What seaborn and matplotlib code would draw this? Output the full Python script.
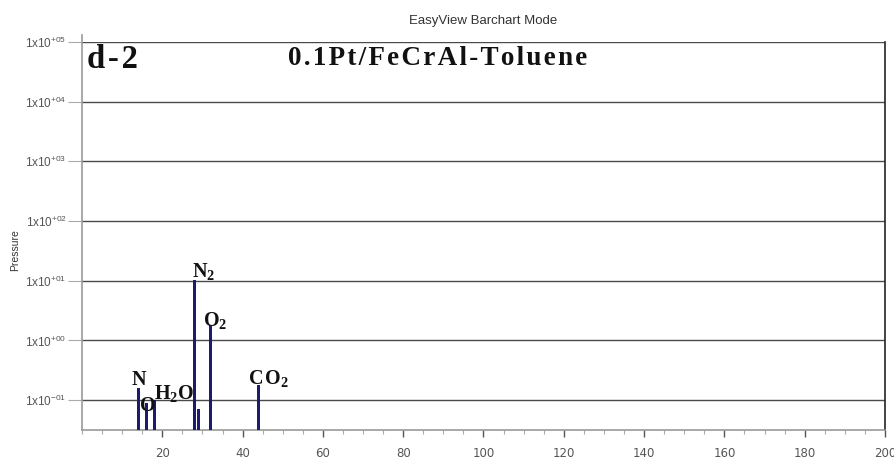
import numpy as np
import pandas as pd
import seaborn as sns
import matplotlib
matplotlib.use("Agg")
import matplotlib.pyplot as plt

# ---- data ----
mass = [14, 16, 18, 28, 29, 32, 44]
pressure = [0.16, 0.09, 0.10, 10.5, 0.072, 1.8, 0.18]
peak_labels = ["N", "O", "H$_2$O", "N$_2$", "", "O$_2$", "C\u200aO$_2$"]
x_ticks = [20, 40, 60, 80, 100, 120, 140, 160, 180, 200]
y_ticks = [1e-1, 1e0, 1e1, 1e2, 1e3, 1e4, 1e5]
y_tick_labels = [r"$\mathsf{1x10^{-01}}$", r"$\mathsf{1x10^{+00}}$", r"$\mathsf{1x10^{+01}}$",
                 r"$\mathsf{1x10^{+02}}$", r"$\mathsf{1x10^{+03}}$", r"$\mathsf{1x10^{+04}}$",
                 r"$\mathsf{1x10^{+05}}$"]
title = "EasyView Barchart Mode"
panel = "d-2"
sample = "0.1Pt/FeCrAl-Toluene"

# ---- label layout (positions of annotations, data coords) ----
label_pos = [(14.2, 0.178, "center"), (16.3, 0.0655, "center"), (22.8, 0.106, "center"),
             (27.4, 11.5, "left"), (None, None, None), (30.2, 1.74, "left"), (41.3, 0.185, "left")]


def spaced(s, n=1):
    return ("\u200a" * n).join(s)


plt.rcParams["mathtext.fontset"] = "custom"
plt.rcParams["mathtext.rm"] = "Liberation Serif:bold"
plt.rcParams["mathtext.bf"] = "Liberation Serif:bold"
plt.rcParams["mathtext.it"] = "Liberation Serif:bold:italic"
plt.rcParams["mathtext.sf"] = "Liberation Sans"

W, H = 895, 459
fig = plt.figure(figsize=(W / 100, H / 100), dpi=100)
ax = fig.add_axes([82 / W, 1 - 430 / H, 803 / W, 388 / H])
ax.set_yscale("log")

df = pd.DataFrame({"mass": mass, "pressure": pressure})
sns.barplot(data=df, x="mass", y="pressure", native_scale=True, width=0.85,
            color="#1c1c6e", saturation=1, linewidth=0, ax=ax, zorder=3)

ax.set_xlim(0, 200)
ax.set_ylim(10 ** -1.5, 1e5)
ax.set_xlabel("")
ax.set_ylabel("")

ax.set_yticks(y_ticks)
ax.set_yticklabels(y_tick_labels)
ax.yaxis.set_minor_locator(matplotlib.ticker.NullLocator())
ax.set_xticks(x_ticks)
ax.set_xticklabels([str(v) for v in x_ticks])
ax.set_xticks(np.arange(0, 201, 5), minor=True)

ax.yaxis.grid(True, color="#4a4a4a", lw=1.0, zorder=1)
ax.set_axisbelow(True)

ax.tick_params(axis="y", which="major", length=10, width=0.8, color="#aaaaaa",
               labelcolor="#555555", labelsize=8.5, pad=1)
ax.tick_params(axis="x", which="major", length=5, width=1, color="#555555",
               labelcolor="#555555", labelsize=8.5, pad=7.5)
ax.tick_params(axis="x", which="minor", length=3, width=0.8, color="#aaaaaa")

ax.spines["top"].set_visible(False)
ax.spines["left"].set_color("#999999")
ax.spines["left"].set_linewidth(1.2)
ax.spines["left"].set_bounds(10 ** -1.5, 10 ** 5.12)
ax.spines["bottom"].set_color("#999999")
ax.spines["bottom"].set_linewidth(1.2)
ax.spines["right"].set_color("#222222")
ax.spines["right"].set_linewidth(1.2)

serif = ["Liberation Serif", "DejaVu Serif"]
for lab, (lx, ly, ha) in zip(peak_labels, label_pos):
    if not lab:
        continue
    ax.text(lx, ly, lab, ha=ha, va="baseline", fontsize=14.5,
            family=serif, fontweight="bold", color="#111111", zorder=4)

ax.text(0.006, 0.933, spaced(panel, 1), transform=ax.transAxes, ha="left", va="baseline",
        fontsize=23.5, family=serif, fontweight="bold", color="#111111")
ax.text((288 - 82) / 803, (430 - 65) / 388, spaced(sample, 1), transform=ax.transAxes,
        ha="left", va="baseline", fontsize=19.5, family=serif, fontweight="bold",
        color="#111111")

fig.text(483 / W, 1 - 21 / H, title, ha="center", va="center", fontsize=9.5,
         family="Liberation Sans", color="#333333")
fig.text(15 / W, 1 - 250 / H, "Pressure", rotation=90, ha="center", va="center",
         fontsize=7.5, family="Liberation Sans", color="#333333")

fig.savefig("out.png", dpi=100)
